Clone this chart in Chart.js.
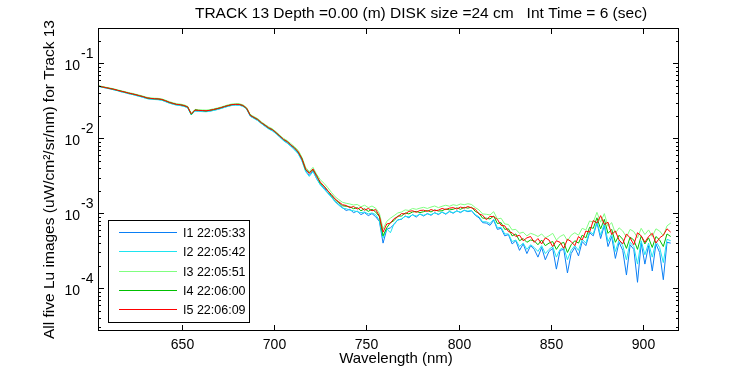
<!DOCTYPE html>
<html>
<head>
<meta charset="utf-8">
<script src="https://cdn.jsdelivr.net/npm/chart.js@4.4.1/dist/chart.umd.min.js"></script>
<style>
  html, body { margin: 0; padding: 0; background: #fff; }
  #wrap { width: 750px; height: 375px; }
</style>
</head>
<body>
<div id="wrap"><canvas id="chart" width="750" height="375"></canvas></div>
<script>
// wavelengths (nm)
const wavelength = [
  605, 607, 609, 611, 613, 615, 617, 619, 621, 623,
  625, 627, 629, 631, 633, 635, 637, 639, 641, 643,
  645, 647, 649, 651, 653, 655, 657, 659, 661, 663,
  665, 667, 669, 671, 673, 675, 677, 679, 681, 683,
  685, 687, 689, 691, 693, 695, 697, 699, 701, 703,
  705, 707, 709, 711, 713, 715, 717, 719, 721, 723,
  725, 727, 729, 731, 733, 735, 737, 739, 741, 743,
  745, 747, 749, 751, 753, 755, 757, 759, 761, 763,
  765, 767, 769, 771, 773, 775, 777, 779, 781, 783,
  785, 787, 789, 791, 793, 795, 797, 799, 801, 803,
  805, 807, 809, 811, 813, 815, 817, 819, 821, 823,
  825, 827, 829, 831, 833, 835, 837, 839, 841, 843,
  845, 847, 849, 851, 853, 855, 857, 859, 861, 863,
  865, 867, 869, 871, 873, 875, 877, 879, 881, 883,
  885, 887, 889, 891, 893, 895, 897, 899, 901, 903,
  905, 907, 909, 911, 913, 915
];

const lu1 = [
  0.0492, 0.0480, 0.0467, 0.0457, 0.0444, 0.0433, 0.0418, 0.0408, 0.0395, 0.0386,
  0.0374, 0.0364, 0.0352, 0.0340, 0.0334, 0.0331, 0.0329, 0.0324, 0.0310, 0.0297,
  0.0287, 0.0279, 0.0275, 0.0269, 0.0257, 0.0207, 0.0233, 0.0231, 0.0229, 0.0228,
  0.0231, 0.0237, 0.0243, 0.0251, 0.0260, 0.0269, 0.0276, 0.0279, 0.0278, 0.0269,
  0.0247, 0.0198, 0.0186, 0.0174, 0.0158, 0.0146, 0.0135, 0.0127, 0.0116, 0.0105,
  0.0094, 0.0087, 0.0079, 0.0072, 0.0063, 0.0051, 0.0037, 0.0032, 0.0037, 0.0029,
  0.0024, 0.0022, 0.00188, 0.00166, 0.00144, 0.00131, 0.00119, 0.00109, 0.00113, 0.00102,
  0.00107, 0.00096, 0.00102, 0.00093, 0.00099, 0.00090, 0.00078, 0.00040, 0.00061, 0.00064,
  0.00071, 0.00082, 0.00083, 0.00092, 0.00087, 0.00096, 0.00089, 0.00098, 0.00092, 0.00099,
  0.00094, 0.00102, 0.00096, 0.00104, 0.00097, 0.00106, 0.00100, 0.00108, 0.00102, 0.00110,
  0.00105, 0.00108, 0.00094, 0.00087, 0.00075, 0.00074, 0.00069, 0.00081, 0.00061, 0.00063,
  0.00050, 0.00052, 0.00039, 0.00043, 0.00032, 0.00039, 0.00029, 0.00037, 0.00033, 0.00026,
  0.00035, 0.00024, 0.00031, 0.00034, 0.00018, 0.00032, 0.00033, 0.00016, 0.00029, 0.00035,
  0.00027, 0.00042, 0.00037, 0.00055, 0.00050, 0.00075, 0.00046, 0.00069, 0.00036, 0.00049,
  0.00025, 0.00041, 0.00032, 0.00015, 0.00038, 0.00033, 0.00012, 0.00040, 0.00021, 0.00037,
  0.00017, 0.00039, 0.00030, 0.00013, 0.00041, 0.00040
];

const lu2 = [
  0.0490, 0.0478, 0.0466, 0.0455, 0.0443, 0.0431, 0.0416, 0.0406, 0.0393, 0.0384,
  0.0372, 0.0362, 0.0350, 0.0338, 0.0332, 0.0329, 0.0327, 0.0322, 0.0308, 0.0295,
  0.0285, 0.0277, 0.0273, 0.0267, 0.0255, 0.0205, 0.0231, 0.0229, 0.0227, 0.0226,
  0.0229, 0.0235, 0.0241, 0.0249, 0.0258, 0.0267, 0.0274, 0.0277, 0.0276, 0.0267,
  0.0245, 0.0196, 0.0184, 0.0172, 0.0157, 0.0144, 0.0133, 0.0125, 0.0115, 0.0103,
  0.0093, 0.0086, 0.0078, 0.0070, 0.0062, 0.0050, 0.0036, 0.0031, 0.0036, 0.0029,
  0.0024, 0.0021, 0.00185, 0.00164, 0.00142, 0.00128, 0.00117, 0.00115, 0.00110, 0.00108,
  0.00105, 0.00102, 0.00104, 0.00098, 0.00101, 0.00096, 0.00080, 0.00047, 0.00062, 0.00055,
  0.00073, 0.00081, 0.00084, 0.00091, 0.00090, 0.00095, 0.00092, 0.00097, 0.00094, 0.00098,
  0.00096, 0.00101, 0.00098, 0.00103, 0.00099, 0.00105, 0.00102, 0.00107, 0.00104, 0.00109,
  0.00107, 0.00109, 0.00096, 0.00090, 0.00077, 0.00077, 0.00073, 0.00083, 0.00064, 0.00065,
  0.00053, 0.00053, 0.00042, 0.00044, 0.00036, 0.00040, 0.00033, 0.00038, 0.00035, 0.00031,
  0.00037, 0.00029, 0.00033, 0.00036, 0.00026, 0.00033, 0.00035, 0.00024, 0.00032, 0.00037,
  0.00032, 0.00045, 0.00040, 0.00057, 0.00053, 0.00077, 0.00051, 0.00073, 0.00042, 0.00053,
  0.00031, 0.00044, 0.00037, 0.00024, 0.00041, 0.00036, 0.00021, 0.00043, 0.00028, 0.00040,
  0.00026, 0.00042, 0.00035, 0.00022, 0.00045, 0.00043
];

const lu3 = [
  0.0502, 0.0490, 0.0478, 0.0468, 0.0456, 0.0444, 0.0430, 0.0420, 0.0407, 0.0398,
  0.0386, 0.0376, 0.0364, 0.0352, 0.0346, 0.0343, 0.0341, 0.0336, 0.0322, 0.0309,
  0.0298, 0.0290, 0.0286, 0.0280, 0.0268, 0.0216, 0.0243, 0.0241, 0.0239, 0.0238,
  0.0241, 0.0247, 0.0253, 0.0261, 0.0270, 0.0280, 0.0287, 0.0290, 0.0289, 0.0280,
  0.0258, 0.0207, 0.0195, 0.0183, 0.0166, 0.0153, 0.0142, 0.0134, 0.0122, 0.0110,
  0.0100, 0.0093, 0.0085, 0.0077, 0.0069, 0.0056, 0.0041, 0.0036, 0.0041, 0.0033,
  0.0028, 0.0025, 0.0022, 0.00190, 0.00166, 0.00152, 0.00140, 0.00136, 0.00133, 0.00129,
  0.00131, 0.00122, 0.00128, 0.00119, 0.00125, 0.00117, 0.00100, 0.00062, 0.00078, 0.00086,
  0.00093, 0.00101, 0.00104, 0.00111, 0.00109, 0.00116, 0.00113, 0.00117, 0.00120, 0.00116,
  0.00121, 0.00125, 0.00119, 0.00124, 0.00128, 0.00124, 0.00130, 0.00127, 0.00133, 0.00130,
  0.00134, 0.00131, 0.00119, 0.00111, 0.00098, 0.00097, 0.00095, 0.00105, 0.00084, 0.00086,
  0.00072, 0.00071, 0.00060, 0.00061, 0.00054, 0.00056, 0.00050, 0.00054, 0.00052, 0.00049,
  0.00053, 0.00047, 0.00050, 0.00054, 0.00044, 0.00049, 0.00052, 0.00043, 0.00051, 0.00055,
  0.00051, 0.00063, 0.00060, 0.00079, 0.00076, 0.00103, 0.00076, 0.00099, 0.00067, 0.00075,
  0.00054, 0.00064, 0.00058, 0.00048, 0.00061, 0.00057, 0.00047, 0.00063, 0.00052, 0.00060,
  0.00049, 0.00062, 0.00058, 0.00050, 0.00068, 0.00074
];

const lu4 = [
  0.0497, 0.0482, 0.0474, 0.0460, 0.0452, 0.0436, 0.0426, 0.0412, 0.0402, 0.0390,
  0.0382, 0.0368, 0.0360, 0.0344, 0.0341, 0.0336, 0.0336, 0.0328, 0.0318, 0.0301,
  0.0293, 0.0283, 0.0281, 0.0272, 0.0263, 0.0208, 0.0240, 0.0235, 0.0235, 0.0231,
  0.0237, 0.0241, 0.0249, 0.0255, 0.0266, 0.0273, 0.0282, 0.0283, 0.0284, 0.0273,
  0.0250, 0.0204, 0.0189, 0.0179, 0.0161, 0.0150, 0.0137, 0.0131, 0.0118, 0.0108,
  0.0096, 0.0091, 0.0081, 0.0075, 0.0065, 0.0054, 0.0038, 0.0035, 0.0038, 0.0032,
  0.0025, 0.0023, 0.0020, 0.00172, 0.00152, 0.00138, 0.00126, 0.00124, 0.00122, 0.00115,
  0.00119, 0.00108, 0.00115, 0.00106, 0.00113, 0.00104, 0.00090, 0.00050, 0.00064, 0.00075,
  0.00080, 0.00092, 0.00092, 0.00101, 0.00098, 0.00104, 0.00106, 0.00102, 0.00105, 0.00109,
  0.00104, 0.00111, 0.00107, 0.00108, 0.00114, 0.00111, 0.00113, 0.00118, 0.00113, 0.00120,
  0.00117, 0.00121, 0.00106, 0.00100, 0.00086, 0.00086, 0.00084, 0.00092, 0.00073, 0.00075,
  0.00061, 0.00062, 0.00050, 0.00053, 0.00043, 0.00046, 0.00041, 0.00044, 0.00043, 0.00038,
  0.00044, 0.00037, 0.00040, 0.00042, 0.00033, 0.00039, 0.00041, 0.00030, 0.00038, 0.00043,
  0.00040, 0.00051, 0.00047, 0.00065, 0.00063, 0.00087, 0.00062, 0.00083, 0.00054, 0.00061,
  0.00041, 0.00051, 0.00045, 0.00034, 0.00048, 0.00044, 0.00033, 0.00050, 0.00039, 0.00047,
  0.00035, 0.00049, 0.00044, 0.00036, 0.00053, 0.00049
];

const lu5 = [
  0.0495, 0.0484, 0.0472, 0.0462, 0.0450, 0.0438, 0.0424, 0.0414, 0.0400, 0.0392,
  0.0380, 0.0370, 0.0358, 0.0346, 0.0340, 0.0337, 0.0335, 0.0330, 0.0316, 0.0303,
  0.0292, 0.0284, 0.0280, 0.0274, 0.0262, 0.0212, 0.0238, 0.0236, 0.0234, 0.0233,
  0.0236, 0.0242, 0.0248, 0.0256, 0.0265, 0.0274, 0.0281, 0.0284, 0.0283, 0.0274,
  0.0252, 0.0202, 0.0190, 0.0178, 0.0162, 0.0149, 0.0138, 0.0130, 0.0119, 0.0107,
  0.0097, 0.0090, 0.0082, 0.0074, 0.0066, 0.0053, 0.0039, 0.0034, 0.0039, 0.0031,
  0.0026, 0.0023, 0.0020, 0.00178, 0.00155, 0.00142, 0.00130, 0.00127, 0.00119, 0.00123,
  0.00114, 0.00120, 0.00110, 0.00116, 0.00108, 0.00112, 0.00092, 0.00056, 0.00072, 0.00074,
  0.00085, 0.00090, 0.00099, 0.00098, 0.00106, 0.00108, 0.00103, 0.00109, 0.00110, 0.00106,
  0.00112, 0.00108, 0.00110, 0.00116, 0.00112, 0.00117, 0.00119, 0.00114, 0.00121, 0.00117,
  0.00123, 0.00118, 0.00113, 0.00098, 0.00094, 0.00082, 0.00091, 0.00090, 0.00083, 0.00069,
  0.00068, 0.00057, 0.00055, 0.00049, 0.00051, 0.00043, 0.00047, 0.00049, 0.00041, 0.00046,
  0.00039, 0.00047, 0.00044, 0.00036, 0.00043, 0.00041, 0.00034, 0.00045, 0.00042, 0.00037,
  0.00049, 0.00044, 0.00058, 0.00056, 0.00080, 0.00074, 0.00093, 0.00071, 0.00076, 0.00052,
  0.00058, 0.00044, 0.00039, 0.00053, 0.00047, 0.00038, 0.00055, 0.00050, 0.00041, 0.00049,
  0.00054, 0.00040, 0.00047, 0.00051, 0.00062, 0.00056
];

const seriesNames = ['I1 22:05:33', 'I2 22:05:42', 'I3 22:05:51', 'I4 22:06:00', 'I5 22:06:09'];
const seriesColors = ['#0a7ff5', '#1ee4f0', '#80ff80', '#00c000', '#ff0000'];
const xTicks = [650, 700, 750, 800, 850, 900];
const yDecades = [-1, -2, -3, -4];

const FONT = '"Liberation Sans", Arial, sans-serif';

const allSeries = [lu1, lu2, lu3, lu4, lu5];
const datasets = allSeries.map((vals, i) => ({
  label: seriesNames[i],
  data: vals.map((v, k) => ({ x: wavelength[k], y: v })),
  borderColor: seriesColors[i],
  borderWidth: 1,
  pointRadius: 0,
  tension: 0,
  order: 5 - i
}));

// matlab-like frame, ticks, labels and legend
const matlabFrame = {
  id: 'matlabFrame',
  afterDraw(chart) {
    const { ctx, chartArea: a, scales } = chart;
    const xs = scales.x, ys = scales.y;
    ctx.save();
    ctx.strokeStyle = '#000';
    ctx.fillStyle = '#000';
    ctx.lineWidth = 1;
    ctx.strokeRect(a.left + 0.5, a.top + 0.5, a.right - a.left - 1, a.bottom - a.top - 1);

    // x ticks
    ctx.font = '14px ' + FONT;
    ctx.textAlign = 'center';
    ctx.textBaseline = 'middle';
    xTicks.forEach(t => {
      const px = Math.round(xs.getPixelForValue(t)) + 0.5;
      ctx.beginPath();
      ctx.moveTo(px, a.bottom); ctx.lineTo(px, a.bottom - 6);
      ctx.moveTo(px, a.top); ctx.lineTo(px, a.top + 6);
      ctx.stroke();
      ctx.fillText(String(t), px, a.bottom + 14);
    });

    // y ticks (log, with minor ticks)
    for (let e = -5; e <= 0; e++) {
      for (let m = 1; m <= 9; m++) {
        const v = m * Math.pow(10, e);
        if (v < ys.min || v > ys.max) continue;
        const py = Math.round(ys.getPixelForValue(v)) + 0.5;
        const len = m === 1 ? 6 : 3;
        ctx.beginPath();
        ctx.moveTo(a.left, py); ctx.lineTo(a.left + len, py);
        ctx.moveTo(a.right, py); ctx.lineTo(a.right - len, py);
        ctx.stroke();
      }
    }
    yDecades.forEach(e => {
      const py = ys.getPixelForValue(Math.pow(10, e));
      ctx.textAlign = 'right';
      ctx.font = '14px ' + FONT;
      ctx.fillText('10', 80, py + 3);
      ctx.textAlign = 'left';
      ctx.fillText(String(e), 81, py - 9);
    });

    // titles
    ctx.font = '15.5px ' + FONT;
    ctx.textAlign = 'center';
    ctx.fillText('TRACK 13 Depth =0.00 (m) DISK size =24 cm   Int Time = 6 (sec)', 421, 14);
    ctx.font = '15px ' + FONT;
    ctx.fillText('Wavelength (nm)', 396, 359);
    ctx.save();
    ctx.font = '15.5px ' + FONT;
    ctx.translate(50, (a.top + a.bottom) / 2);
    ctx.rotate(-Math.PI / 2);
    ctx.fillText('All five Lu images (uW/cm\u00b2/sr/nm) for Track 13', 0, 0);
    ctx.restore();

    // legend
    const lx = 108, ly = 220, lw = 141, lh = 102;
    ctx.fillStyle = '#fff';
    ctx.fillRect(lx, ly, lw, lh);
    ctx.strokeRect(lx + 0.5, ly + 0.5, lw, lh);
    ctx.font = '12.5px ' + FONT;
    ctx.textAlign = 'left';
    seriesNames.forEach((name, i) => {
      const ry = Math.round(232 + i * 19.3) + 0.5;
      ctx.strokeStyle = seriesColors[i];
      ctx.beginPath();
      ctx.moveTo(119, ry); ctx.lineTo(177, ry);
      ctx.stroke();
      ctx.fillStyle = '#000';
      ctx.fillText(name, 183, ry + 1);
    });
    ctx.restore();
  }
};

new Chart(document.getElementById('chart'), {
  type: 'line',
  data: { datasets: datasets },
  options: {
    responsive: false,
    animation: false,
    devicePixelRatio: 1,
    layout: { padding: { left: 0, top: 28, right: 71, bottom: 0 } },
    plugins: { legend: { display: false }, tooltip: { enabled: false }, title: { display: false } },
    scales: {
      x: {
        type: 'linear',
        min: 604.4,
        max: 919.5,
        grid: { display: false },
        border: { display: false },
        ticks: { display: false },
        afterFit: s => { s.height = 44; }
      },
      y: {
        type: 'logarithmic',
        min: 2.69e-5,
        max: 0.296,
        grid: { display: false },
        border: { display: false },
        ticks: { display: false },
        afterFit: s => { s.width = 98; }
      }
    }
  },
  plugins: [matlabFrame]
});
</script>
</body>
</html>
